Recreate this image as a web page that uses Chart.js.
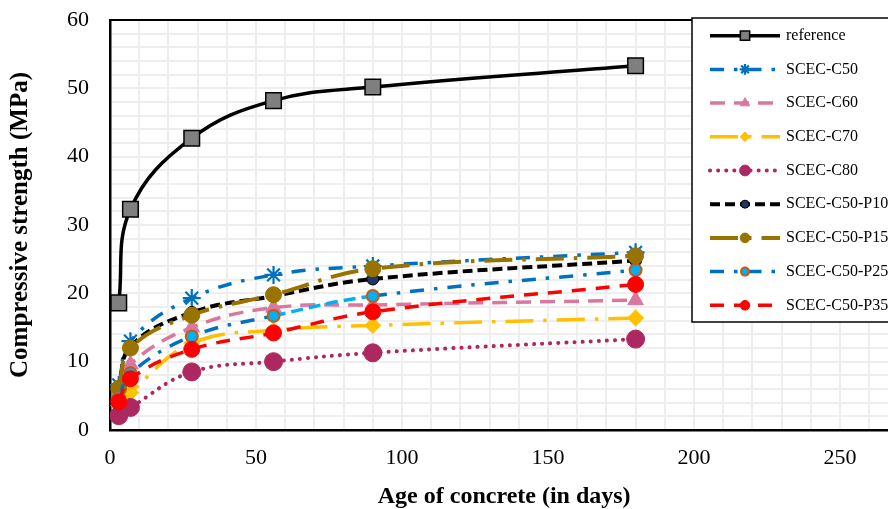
<!DOCTYPE html>
<html>
<head>
<meta charset="utf-8">
<script src="https://cdn.jsdelivr.net/npm/chart.js@4.4.0/dist/chart.umd.min.js"></script>
<style>
  html, body { margin: 0; padding: 0; width: 888px; height: 509px; overflow: hidden; background: #fff; }
  canvas { display: block; }
</style>
</head>
<body>
<canvas id="strengthChart" width="912" height="509"></canvas>
<script>
// age of concrete in days
const AGES = [3, 7, 28, 56, 90, 180];

// compressive strength (MPa)
const REFERENCE   = [18.6, 32.3, 42.7, 48.2, 50.2, 53.3];
const SCEC_C50    = [6.6, 13.0, 19.3, 22.7, 24.0, 26.0];
const SCEC_C60    = [5.2, 9.6, 15.0, 17.9, 18.3, 19.0];
const SCEC_C70    = [3.6, 5.5, 12.7, 14.6, 15.3, 16.4];
const SCEC_C80    = [2.1, 3.3, 8.5, 10.0, 11.3, 13.3];
const SCEC_C50_P10 = [6.0, 12.2, 17.2, 19.6, 22.1, 24.8];
const SCEC_C50_P15 = [6.1, 12.0, 16.8, 19.8, 23.6, 25.5];
const SCEC_C50_P25 = [4.8, 8.3, 13.7, 16.7, 19.6, 23.4];
const SCEC_C50_P35 = [4.1, 7.5, 11.8, 14.2, 17.3, 21.3];

// the plot runs a little past the right edge of the picture
const X_MAX = 270;
const X_TICKS = [0, 50, 100, 150, 200, 250];
const Y_TICKS = [0, 10, 20, 30, 40, 50, 60];

const SERIF = '"Liberation Serif", "Times New Roman", serif';

const toPoints = (values) => values.map((v, i) => ({ x: AGES[i], y: v }));

// label, values, line colour, dash, line width, marker style, radius, fill, edge, edge width
const SERIES = [
  ['reference',     REFERENCE,    '#000000', [],                    3.5, 'rect',     11, '#7f7f7f', '#000000', 1.5],
  ['SCEC-C50',      SCEC_C50,     '#0070C0', [14, 10, 3.5, 10],     3.5, 'star',      9, '#0070C0', '#0070C0', 2.2],
  ['SCEC-C60',      SCEC_C60,     '#D9779F', [15, 9],               3.5, 'triangle',  9, '#D9779F', '#D9779F', 1],
  ['SCEC-C70',      SCEC_C70,     '#FFC000', [28, 10, 3.5, 10],     3.5, 'rectRot',   8, '#FFC000', '#FFC000', 1],
  ['SCEC-C80',      SCEC_C80,     '#AD2860', [0.1, 8],              4,   'circle',    9, '#AD2860', '#AD2860', 1],
  ['SCEC-C50-P10',  SCEC_C50_P10, '#000000', [10, 5],               4,   'circle',    6, '#1F3864', '#000000', 1],
  ['SCEC-C50-P15',  SCEC_C50_P15, '#997300', [28, 10, 3.5, 10],     4,   'circle',    8, '#997300', '#997300', 1],
  ['SCEC-C50-P25',  SCEC_C50_P25, '#0070C0', [14, 10, 3.5, 10],     3.5, 'circle',    6, '#00B0F0', '#C55A11', 2],
  ['SCEC-C50-P35',  SCEC_C50_P35, '#FF0000', [14, 10],              3.5, 'circle',    8, '#FF0000', '#FF0000', 1],
];

const datasets = SERIES.map(([label, values, color, dash, width, style, radius, fill, edge, edgeWidth], i) => ({
  label,
  data: toPoints(values),
  borderColor: color,
  borderDash: dash,
  borderWidth: width,
  borderCapStyle: label === 'SCEC-C80' ? 'round' : 'butt',
  pointStyle: style,
  pointRadius: radius,
  pointHoverRadius: radius,
  pointBackgroundColor: fill,
  pointBorderColor: edge,
  pointBorderWidth: edgeWidth,
  tension: 0.4,
  fill: false,
  order: -i,
}));

// the P25 curve changes to a light blue dashed stroke between 56 and 90 days
datasets[7].segment = {
  borderColor: (c) => (c.p0DataIndex === 3 ? '#00B0F0' : undefined),
  borderDash: (c) => (c.p0DataIndex === 3 ? [12, 6] : undefined),
};

function drawMarker(ctx, ds, x, y, radius) {
  ctx.fillStyle = ds.pointBackgroundColor;
  ctx.strokeStyle = ds.pointBorderColor;
  ctx.lineWidth = ds.pointBorderWidth;
  if (Chart.helpers && Chart.helpers.drawPoint) {
    Chart.helpers.drawPoint(ctx, { pointStyle: ds.pointStyle, rotation: 0, radius, borderWidth: ds.pointBorderWidth }, x, y);
  } else {
    ctx.beginPath();
    ctx.arc(x, y, radius, 0, Math.PI * 2);
    ctx.fill();
    ctx.stroke();
  }
}

// plot frame (top edge) and the boxed legend sitting over the right of the plot
const frameAndLegend = {
  id: 'frameAndLegend',
  beforeDatasetsDraw(chart) {
    const { ctx, chartArea: a } = chart;
    ctx.save();
    ctx.strokeStyle = '#000';
    ctx.lineWidth = 2;
    ctx.beginPath();
    ctx.moveTo(a.left, a.top);
    ctx.lineTo(a.right, a.top);
    ctx.lineTo(a.right, a.bottom);
    ctx.stroke();
    ctx.restore();
  },
  afterDraw(chart) {
    const ctx = chart.ctx;
    ctx.save();
    ctx.fillStyle = '#fff';
    ctx.fillRect(692, 18, 320, 304);
    ctx.strokeStyle = '#000';
    ctx.lineWidth = 1.5;
    ctx.strokeRect(692, 18, 320, 304);
    chart.data.datasets.forEach((ds, i) => {
      const y = 35.7 + i * 33.7;
      ctx.beginPath();
      ctx.setLineDash(ds.borderDash);
      ctx.lineCap = ds.borderCapStyle;
      ctx.strokeStyle = ds.borderColor;
      ctx.lineWidth = ds.borderWidth;
      ctx.moveTo(710, y);
      ctx.lineTo(780, y);
      ctx.stroke();
      ctx.setLineDash([]);
      ctx.lineCap = 'butt';
      drawMarker(ctx, ds, 745, y, Math.max(4, ds.pointRadius * 0.6));
      ctx.fillStyle = '#000';
      ctx.font = '16px ' + SERIF;
      ctx.textAlign = 'left';
      ctx.textBaseline = 'middle';
      ctx.fillText(ds.label, 786, y);
    });
    ctx.restore();
  },
};

new Chart(document.getElementById('strengthChart'), {
  type: 'line',
  data: { datasets },
  plugins: [frameAndLegend],
  options: {
    responsive: false,
    animation: false,
    events: [],
    layout: { padding: { top: 20, right: 13.6, left: 0, bottom: 0 } },
    plugins: {
      legend: { display: false },
      tooltip: { enabled: false },
    },
    scales: {
      x: {
        type: 'linear',
        min: 0,
        max: X_MAX,
        afterFit: (s) => { s.height = 79; s.paddingLeft = 0; s.paddingRight = 0; },
        grid: { color: '#eeeeee', lineWidth: 2, drawTicks: false },
        border: { color: '#000', width: 2.5 },
        ticks: {
          stepSize: 10,
          autoSkip: false,
          maxRotation: 0,
          padding: 15,
          color: '#000',
          font: { family: SERIF, size: 22 },
          callback: (v) => (X_TICKS.includes(v) ? v : ''),
        },
        title: {
          display: true,
          text: 'Age of concrete (in days)',
          color: '#000',
          font: { family: SERIF, size: 24, weight: 'bold', lineHeight: 1 },
          padding: { top: 0, bottom: 0 },
        },
      },
      y: {
        min: Y_TICKS[0],
        max: Y_TICKS[Y_TICKS.length - 1],
        afterFit: (s) => { s.width = 110; s.paddingTop = 0; s.paddingBottom = 0; },
        grid: { color: '#eeeeee', lineWidth: 2, drawTicks: false },
        border: { color: '#000', width: 2.5 },
        ticks: {
          stepSize: 2,
          autoSkip: false,
          padding: 21,
          color: '#000',
          font: { family: SERIF, size: 22 },
          callback: (v) => (Y_TICKS.includes(v) ? v : ''),
        },
        title: {
          display: true,
          text: 'Compressive strength (MPa)',
          color: '#000',
          font: { family: SERIF, size: 25, weight: 'bold', lineHeight: 1.2 },
          padding: { top: 6, bottom: 0 },
        },
      },
    },
  },
});
</script>
</body>
</html>
